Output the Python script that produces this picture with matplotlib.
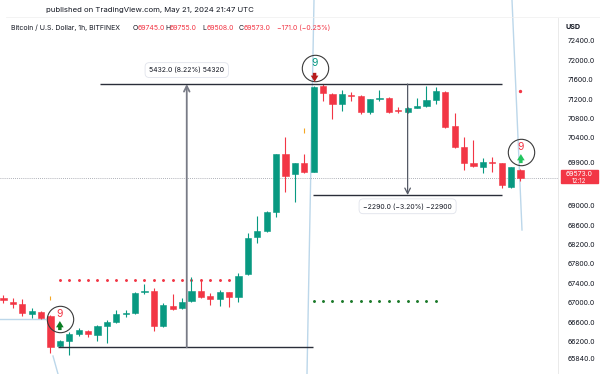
import matplotlib.pyplot as plt
from matplotlib.lines import Line2D
from matplotlib.patches import Rectangle

plt.rcParams['font.family'] = ['Inter', 'DejaVu Sans']

# Hourly BTC/USD candles
opens = [67100, 67020, 66970, 66770, 66810, 66730, 66110, 66210, 66360, 66420,
         66340, 66520, 66600, 66770, 66790, 67220, 67240, 66520, 66930, 66890,
         67040, 67240, 67140, 67080, 67220, 67120, 67590, 68360, 68480, 68870,
         70070, 69660, 69880, 69700, 71470, 71310, 71100, 71290, 71270, 70940,
         71200, 71220, 70980, 70940, 71020, 71060, 71180, 71350, 70650, 70210,
         69880, 69800, 69910, 69880, 69390, 69745]
highs = [67160, 67100, 67080, 66890, 66830, 66740, 66230, 66400, 66480, 66440,
         66540, 66640, 66850, 66850, 67220, 67390, 67300, 67000, 67180, 67100,
         67530, 67490, 67200, 67260, 67230, 67610, 68440, 68790, 68890, 70070,
         70420, 69890, 70070, 71470, 71510, 71330, 71390, 71350, 71290, 71210,
         71390, 71240, 71040, 71040, 71220, 71470, 71450, 71360, 70910, 70420,
         70360, 69990, 70010, 69890, 69810, 69755]
lows = [66995, 66890, 66730, 66690, 66670, 65960, 66090, 65920, 66310, 66290,
        66210, 66170, 66580, 66710, 66770, 67180, 66420, 66500, 66850, 66870,
        67020, 67100, 66950, 66930, 66910, 67020, 67570, 68230, 68460, 68770,
        69290, 69080, 69680, 69700, 71160, 70790, 70960, 71160, 70890, 70890,
        71160, 70910, 70910, 70920, 71010, 71040, 71100, 70600, 70190, 69740,
        69800, 69680, 69700, 69370, 69370, 69508]
closes = [67060, 66970, 66790, 66830, 66690, 66090, 66210, 66360, 66440, 66360,
          66520, 66600, 66770, 66790, 67200, 67240, 66520, 66950, 66870, 67020,
          67240, 67120, 67080, 67220, 67120, 67550, 68340, 68480, 68870, 70070,
          69610, 69880, 69700, 71450, 71330, 71100, 71310, 71270, 70940, 71200,
          71220, 70940, 70960, 71020, 71060, 71180, 71370, 70630, 70210, 69880,
          69820, 69900, 69890, 69430, 69800, 69573]

price_ticks = [72400, 72000, 71600, 71200, 70800, 70400, 69900, 69000,
               68600, 68200, 67800, 67400, 67000, 66600, 66200, 65840]
last_price = 69573.0

# measurement tool: shared top, two moves
measure_top = 71512
measure_up = 5432.0
measure_down = -2290.0

# TD sequential "9" signals: (candle, price, colour of the 9, arrow colour, arrow up?)
td_signals = [(6.0, 66665, '#f23645', '#0a7d22', True),
              (33.1, 71843, '#089981', '#b71c1c', False),
              (55.05, 70110, '#f23645', '#22c55e', True)]

red_dot_level = 67470
green_dot_level = 67040

GREEN = '#089981'
RED = '#f23645'

fig = plt.figure(figsize=(6, 3.74), dpi=100)
ax = fig.add_axes([0, 0, 558 / 600, 356 / 374])
ax.set_facecolor('none')
idx = list(range(len(opens)))

for i in idx:
    o, h, l, c = opens[i], highs[i], lows[i], closes[i]
    col = GREEN if c >= o else RED
    ax.vlines(i, l, h, color=col, lw=0.8, zorder=3)
    ax.bar(i, max(abs(c - o), 18), bottom=min(o, c), width=0.66,
           color=col, edgecolor=col, lw=0.4, zorder=4)

ax.set_xlim(-0.37, 59.0)
ax.set_ylim(65530, 72874)

# dotted stop levels and small markers
ax.scatter(idx[6:25], [red_dot_level] * 19, s=1.2, color=RED, zorder=2)
ax.scatter(idx[33:47], [green_dot_level] * 14, s=1.2, color='#1b7a2a', zorder=2)
ax.scatter([55], [71368], s=2, color=RED, zorder=2)
ax.vlines([5, 32], [67060, 70510], [67140, 70600], color='#f5a623', lw=0.8)

# current price line
ax.axhline(last_price, color='#9598a1', lw=0.6, ls=(0, (1, 1.5)), zorder=1)

# measure tool 1 (up)
low1 = measure_top - measure_up
ax.hlines(measure_top, 10.3, 53.0, color='#2a2e39', lw=1.0, zorder=5)
ax.hlines(low1, 5.8, 32.9, color='#2a2e39', lw=1.0, zorder=5)
ax.annotate('', xy=(19.5, measure_top), xytext=(19.5, low1),
            arrowprops=dict(arrowstyle='->', color='#787b86', lw=1.3,
                            shrinkA=0, shrinkB=0), zorder=5)
ax.text(19.5, 71800, '5432.0 (8.22%) 54320', fontsize=5, ha='center', va='center',
        color='#131722', zorder=6,
        bbox=dict(boxstyle='round,pad=0.6', fc='white', ec='#e0e3eb', lw=0.6))

# measure tool 2 (down)
low2 = measure_top + measure_down
ax.hlines(low2, 32.9, 53.0, color='#2a2e39', lw=1.0, zorder=5)
ax.annotate('', xy=(43.0, low2), xytext=(43.0, measure_top),
            arrowprops=dict(arrowstyle='->', color='#555a66', lw=0.9,
                            shrinkA=0, shrinkB=0), zorder=5)
ax.text(43.0, 68990, '\u22122290.0 (\u22123.20%) \u221222900', fontsize=5,
        ha='center', va='center', color='#131722', zorder=6,
        bbox=dict(boxstyle='round,pad=0.6', fc='white', ec='#e0e3eb', lw=0.6))

# TD signals: circle, number, small block arrow
arrow_style = 'simple,head_width=0.55,head_length=0.45,tail_width=0.25'
for x, y, col9, acol, up in td_signals:
    ax.plot(x, y, 'o', ms=19, mfc='none', mec='#3a3a3a', mew=0.8, zorder=7)
    ax.annotate('9', (x, y), xytext=(0, 3.5), textcoords='offset points',
                ha='center', va='center', fontsize=7.5, color=col9, zorder=8)
    start, end = (-8.0, -1.5) if up else (-3.5, -10.0)
    px, py = ax.transData.transform((x, y))
    ax.annotate('', xy=(px, py + end * 100 / 72), xytext=(px, py + start * 100 / 72),
                xycoords='figure pixels', textcoords='figure pixels',
                arrowprops=dict(arrowstyle=arrow_style, color=acol, lw=0,
                                shrinkA=0, shrinkB=0), zorder=8)

# price scale on the right
ax.yaxis.tick_right()
ax.set_yticks(price_ticks)
ax.set_yticklabels([f'{p:.1f}' for p in price_ticks], fontsize=5, color='#131722')
ax.tick_params(axis='y', length=0, pad=7)
ax.set_xticks([])
for s in ax.spines.values():
    s.set_visible(False)
ax.spines['right'].set_visible(True)
ax.spines['right'].set_color('#e6e6e6')
ax.spines['right'].set_linewidth(0.6)

# last price tag
ly = 1 - 183 / 374
fig.add_artist(Rectangle((561 / 600, ly), 37 / 600, 13 / 374,
                         transform=fig.transFigure, color=RED, zorder=9))
fig.text(579 / 600, 1 - 174.5 / 374, f'{last_price:.1f}', fontsize=5, color='white',
         ha='center', va='center', zorder=10)
fig.text(579 / 600, 1 - 180.5 / 374, '12:12', fontsize=4.5, color='white',
         ha='center', va='center', zorder=10)
fig.text(566 / 600, 1 - 27 / 374, 'USD', fontsize=5.2, color='#131722',
         fontweight='bold', va='center')

# header
fig.text(150 / 600, 1 - 10 / 374, 'published on TradingView.com, May 21, 2024 21:47 UTC',
         fontsize=5.6, color='#131722', ha='center', va='center')
fig.add_artist(Line2D([6 / 600, 1], [1 - 17 / 374] * 2, color='#eeeeee', lw=0.5))
hy = 1 - 28 / 374
fig.text(11 / 600, hy, 'Bitcoin / U.S. Dollar, 1h, BITFINEX', fontsize=5, color='#131722',
         va='center')
for xp, lab, val in [(133, 'O', '69745.0'), (165, 'H', '69755.0'),
                     (202, 'L', '69508.0'), (239, 'C', '69573.0')]:
    fig.text(xp / 600, hy, lab, fontsize=5, color='#131722', va='center')
    fig.text((xp + 4.5) / 600, hy, val, fontsize=5, color=RED, va='center')
fig.text(277 / 600, hy, '\u2212171.0 (\u22120.25%)', fontsize=5, color=RED, va='center')

# light blue guide lines
for xs, ys in [([314, 307], [0, 374]), ([512, 522], [0, 230]),
               ([0, 45], [319, 319]), ([53, 58], [356, 374])]:
    fig.add_artist(Line2D([v / 600 for v in xs], [1 - v / 374 for v in ys],
                          color='#bcd7ea', lw=1.0, zorder=0))

fig.savefig('out.png', dpi=100)
